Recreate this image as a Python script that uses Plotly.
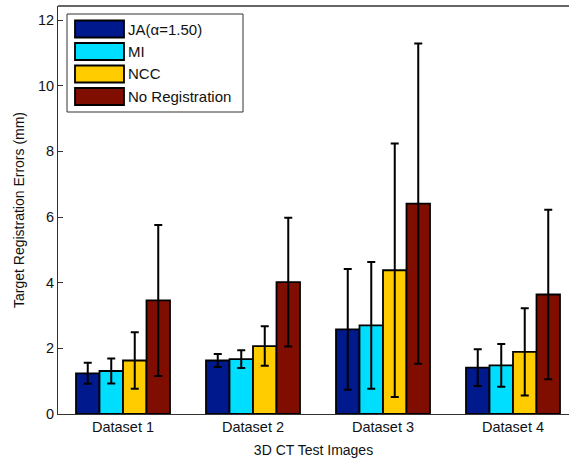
import plotly.graph_objects as go

categories = ["Dataset 1", "Dataset 2", "Dataset 3", "Dataset 4"]
series_names = ["JA(\u03b1=1.50)", "MI", "NCC", "No Registration"]
colors = ["#001A8E", "#00DEFF", "#FFCC00", "#800E00"]

ja_mean = [1.24, 1.63, 2.58, 1.41]
ja_err = [0.32, 0.20, 1.84, 0.56]
mi_mean = [1.31, 1.67, 2.70, 1.48]
mi_err = [0.38, 0.27, 1.93, 0.65]
ncc_mean = [1.63, 2.07, 4.38, 1.89]
ncc_err = [0.86, 0.60, 3.86, 1.33]
noreg_mean = [3.46, 4.02, 6.41, 3.64]
noreg_err = [2.30, 1.96, 4.88, 2.58]

means = [ja_mean, mi_mean, ncc_mean, noreg_mean]
errs = [ja_err, mi_err, ncc_err, noreg_err]

x_pos = [1, 2, 3, 4]

W, H = 569, 459
L, R, T, B = 58, 0, 6, 45
pw, ph = W - L - R, H - T - B

fig = go.Figure()
for name, m, e, c in zip(series_names, means, errs, colors):
    fig.add_trace(go.Bar(
        x=x_pos, y=m, name=name,
        marker=dict(color=c, line=dict(color="black", width=1.8)),
        error_y=dict(type="data", array=e, visible=True, color="black",
                     thickness=2, width=4),
        showlegend=False,
    ))

def px_x(px):
    return (px - L) / pw

def px_y(py):
    return (H - B - py) / ph

shapes = []
annotations = []
# legend box
shapes.append(dict(type="rect", xref="paper", yref="paper",
                   x0=px_x(67), x1=px_x(243), y0=px_y(112), y1=px_y(14),
                   line=dict(color="#333", width=1), fillcolor="white", layer="above"))
centers = [29, 51.5, 74, 96.5]
for name, c, cy in zip(series_names, colors, centers):
    shapes.append(dict(type="rect", xref="paper", yref="paper",
                       x0=px_x(75), x1=px_x(124), y0=px_y(cy + 8.5), y1=px_y(cy - 8.5),
                       line=dict(color="black", width=1.8), fillcolor=c, layer="above"))
    annotations.append(dict(xref="paper", yref="paper", x=px_x(126), y=px_y(cy),
                            text=name, showarrow=False, xanchor="left", yanchor="middle",
                            font=dict(size=15, color="#111", family="Liberation Sans, Arial")))
# top border line
shapes.append(dict(type="line", xref="paper", yref="paper", x0=0, x1=1, y0=1, y1=1,
                   line=dict(color="#333", width=1.5)))

fig.update_layout(
    width=W, height=H,
    margin=dict(l=L, r=R, t=T, b=B),
    paper_bgcolor="white", plot_bgcolor="white",
    barmode="group", bargap=0.277, bargroupgap=0,
    font=dict(family="Liberation Sans, Arial", size=13, color="#111"),
    shapes=shapes, annotations=annotations,
    xaxis=dict(range=[0.5, 0.5 + pw / 130.0], tickvals=x_pos, ticktext=categories,
               showline=True, linecolor="#333", linewidth=1, ticks="",
               showgrid=False, zeroline=False,
               title=dict(text="3D CT Test Images", standoff=10, font=dict(size=14)),
               tickfont=dict(size=14.5)),
    yaxis=dict(range=[0, 12.43], tickvals=[0, 2, 4, 6, 8, 10, 12],
               showline=True, linecolor="#333", linewidth=1,
               ticks="inside", ticklen=5, tickcolor="#333",
               showgrid=False, zeroline=False,
               title=dict(text="Target Registration Errors (mm)", standoff=10, font=dict(size=14)),
               tickfont=dict(size=14.5)),
)

fig.write_html("out.html")
